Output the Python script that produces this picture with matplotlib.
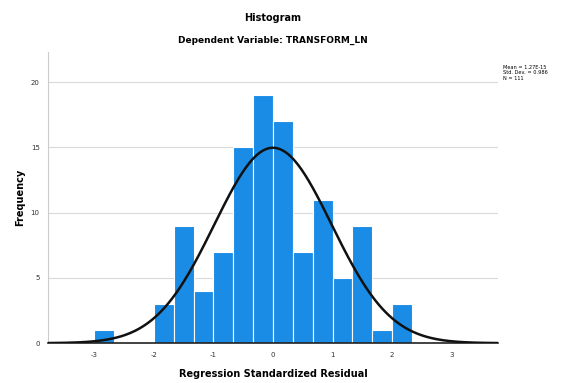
import numpy as np
import matplotlib.pyplot as plt

plt.rcParams['axes.unicode_minus'] = False

# histogram of regression standardized residuals (bin width 1/3)
bin_edges = [-3, -8/3, -7/3, -2, -5/3, -4/3, -1, -2/3, -1/3, 0, 1/3, 2/3, 1, 4/3, 5/3, 2, 7/3]
counts = [1, 0, 0, 3, 9, 4, 7, 15, 19, 17, 7, 11, 5, 9, 1, 3]
mean = 1.27e-15
std = 0.986
n = 111
xticks = [-3, -2, -1, 0, 1, 2, 3]
yticks = [0, 5, 10, 15, 20]

fig = plt.figure(figsize=(5.64, 3.83), dpi=100)
ax = fig.add_axes([0.085, 0.104, 0.798, 0.76])

lefts = np.array(bin_edges[:-1])
widths = np.diff(bin_edges)
ax.bar(lefts, counts, width=widths, align='edge', color='#1a8ce6',
       edgecolor='white', linewidth=0.8, zorder=2)

xs = np.linspace(-3.78, 3.78, 400)
bw = widths[0]
pdf = n * bw / (std * np.sqrt(2 * np.pi)) * np.exp(-0.5 * ((xs - mean) / std) ** 2)
ax.plot(xs, pdf, color='#111111', linewidth=1.8, zorder=3)

ax.set_xlim(-3.78, 3.78)
ax.set_ylim(0, 22.3)
ax.set_xticks(xticks)
ax.set_yticks(yticks)
ax.tick_params(labelsize=5, length=0, colors='#333333', pad=6)
ax.yaxis.grid(True, color='#d9d9d9', linewidth=0.8, zorder=0)
ax.set_axisbelow(True)
for s in ['top', 'right']:
    ax.spines[s].set_visible(False)
ax.spines['left'].set_color('#cccccc')
ax.spines['bottom'].set_color('#222222')
ax.spines['bottom'].set_linewidth(1.2)

ax.set_xlabel('Regression Standardized Residual', fontsize=7, fontweight='bold', labelpad=8)
ax.set_ylabel('Frequency', fontsize=7, fontweight='bold', labelpad=4)

fig.text(0.484, 0.953, 'Histogram', ha='center', va='center', fontsize=7, fontweight='bold')
fig.text(0.484, 0.895, 'Dependent Variable: TRANSFORM_LN', ha='center', va='center',
         fontsize=6.5, fontweight='bold')
fig.text(0.892, 0.81, 'Mean = 1.27E-15\nStd. Dev. = 0.986\nN = 111', ha='left', va='center',
         fontsize=3.6, linespacing=1.1)

fig.savefig('out.png', dpi=100)
